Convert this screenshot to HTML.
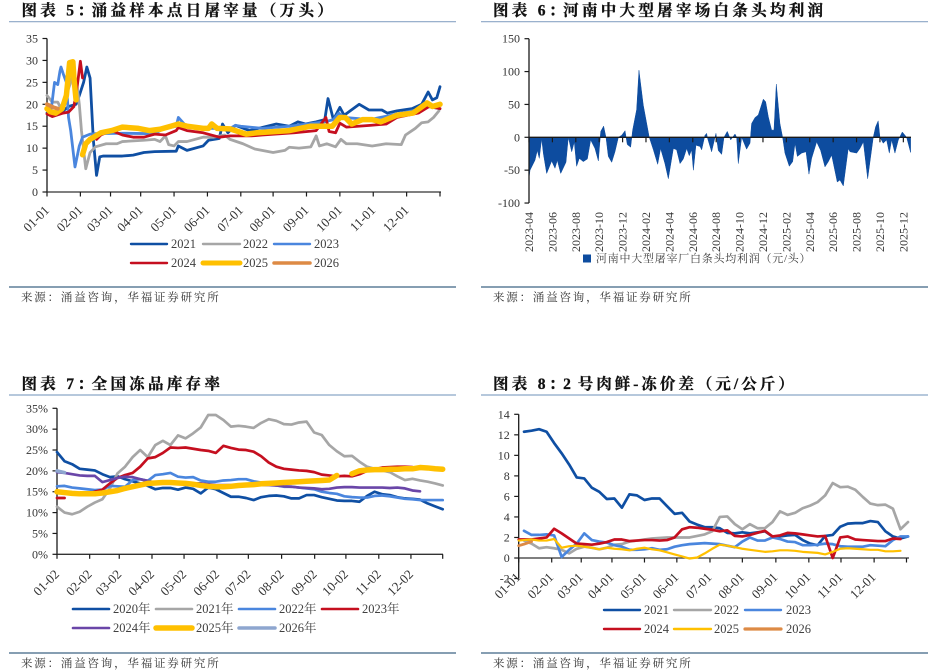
<!DOCTYPE html>
<html lang="zh">
<head>
<meta charset="utf-8">
<title>Charts 5-8</title>
<style>
html,body{margin:0;padding:0;background:#fff;width:942px;height:672px;overflow:hidden}
svg{display:block}
.title{font-family:"Liberation Serif","Noto Serif CJK SC",serif;font-weight:700;font-size:15.5px;letter-spacing:3.3px;fill:#111;stroke:#111;stroke-width:.3px}
.src{font-family:"Liberation Serif","Noto Serif CJK SC",serif;font-size:11.5px;letter-spacing:1.8px;fill:#333}
.tick{font-family:"Liberation Serif","Noto Serif CJK SC",serif;font-size:12px;fill:#333}
.rot{font-size:13px}
.leg{font-family:"Liberation Serif","Noto Serif CJK SC",serif;font-size:12.5px;fill:#404040}
</style>
</head>
<body>
<svg id="page" xmlns="http://www.w3.org/2000/svg" width="942" height="672" viewBox="0 0 942 672">
  <rect width="942" height="672" fill="#fff"/>
  <text class="title" x="21.5" y="15.5">图表 5：<tspan dx="-4.5">涌益样本点日屠宰量（万头）</tspan></text>
  <line x1="9" x2="456" y1="21.7" y2="21.7" stroke="#8ba6c6" stroke-width="1.2"/>
  <line x1="9" x2="456" y1="287" y2="287" stroke="#3f6485" stroke-width="1.2"/>
  <text class="src" x="21" y="301">来源：涌益咨询，华福证券研究所</text>

  <text class="title" x="493" y="15.5">图表 6：<tspan dx="-4.5">河南中大型屠宰场白条头均利润</tspan></text>
  <line x1="481" x2="928" y1="21.7" y2="21.7" stroke="#8ba6c6" stroke-width="1.2"/>
  <line x1="481" x2="928" y1="287" y2="287" stroke="#3f6485" stroke-width="1.2"/>
  <text class="src" x="493" y="301">来源：涌益咨询，华福证券研究所</text>

  <text class="title" x="21.5" y="389">图表 7：<tspan dx="-4.5">全国冻品库存率</tspan></text>
  <line x1="9" x2="456" y1="395" y2="395" stroke="#8ba6c6" stroke-width="1.2"/>
  <line x1="9" x2="456" y1="653" y2="653" stroke="#3f6485" stroke-width="1.2"/>
  <text class="src" x="21" y="667">来源：涌益咨询，华福证券研究所</text>

  <text class="title" x="493" y="389">图表 8：<tspan dx="-4.5" style="word-spacing:-3px;letter-spacing:3px">2 号肉鲜-冻价差（元/公斤）</tspan></text>
  <line x1="481" x2="928" y1="395" y2="395" stroke="#8ba6c6" stroke-width="1.2"/>
  <line x1="481" x2="928" y1="653" y2="653" stroke="#3f6485" stroke-width="1.2"/>
  <text class="src" x="493" y="667">来源：涌益咨询，华福证券研究所</text>

  <g id="c5"></g>
  <g id="c6"></g>
  <g id="c7"></g>
  <g id="c8"></g>
</svg>
<script>
/* ---------- Chart 5 data: day of year / head count (10k) ---------- */
const c5TickDays = [0,31,59,87,118,149,180,210,241,272,303,334,365];
const c5TickLabels = ['01-01','02-01','03-01','04-01','05-01','06-01','07-01','08-01','09-01','10-01','11-01','12-01',''];
const c5YTicks = [0,5,10,15,20,25,30,35];
const days2021 = [0,15,20,27,30,34,37,40,43,46,49,52,60,70,80,90,100,120,122,130,145,150,160,163,168,175,188,213,225,233,240,250,258,261,266,272,276,290,299,311,316,325,339,348,354,358,362,365];
const vals2021 = [18,18.5,19.5,20,22,25,28.5,26,12,3.8,8,8.2,8.2,8.2,8.4,9,9.2,9.3,10.5,9.5,10.5,11.8,12.2,15.5,13.5,15.2,14,15.5,15,16,15.5,16,16.5,21.3,16.5,19.3,17.5,20,18.7,18.7,18,18.5,19,20,22.8,21,21.5,24];
const days2022 = [0,5,10,13,17,22,25,28,30,32,36,40,45,55,65,70,90,100,105,110,113,118,122,130,145,155,165,170,182,193,210,221,225,234,245,250,253,260,268,273,278,288,302,315,329,333,342,348,354,359,364];
const vals2022 = [22,20.5,20.5,19,21.5,25,27.5,24,20,14,5.3,9,10.3,11,11,11.5,11.8,12,11.5,12.8,10.8,10.5,11.5,11.5,12.5,12.5,13,12,11,9.8,9,9.5,10.2,10,10.3,12.8,10.5,11,10.3,12,11,11,10.5,11,10.8,13,14.5,15.8,16,17,18.5];
const days2023 = [0,4,7,10,12,13,15,18,20,22,26,30,33,40,45,70,100,105,110,120,122,130,150,170,175,180,200,225,258,266,271,276,300,329,345,353,365];
const vals2023 = [19,19,25,24.5,27.5,28.5,27,25,17,14,5.7,10.5,12.5,13.2,13.3,13.4,13.3,14,14.5,15,17,14.8,14.5,14.5,15.2,15,14.5,15,16,16.5,18,17,16.5,18,18.8,19.5,19];
const days2024 = [0,5,15,20,25,28,31,33,34,46,50,60,70,80,90,100,110,120,122,130,145,160,170,190,200,230,250,259,262,268,272,278,300,315,325,345,355,365];
const vals2024 = [17.8,17.2,18,18.2,19.5,24,29.8,26,null,12,13,14,13,12.5,12.5,13.2,13,14,14.7,14,13.5,12.5,12.8,12.8,13,13.5,14,17,13.8,13.5,15.7,14.8,15.2,15.5,17,18,19.5,19];
const days2025 = [0,3,8,14,18,20,21,24,25,27,30,33,36,40,50,60,70,85,95,105,115,122,130,145,150,153,158,170,185,195,225,245,265,272,277,283,293,302,310,325,340,353,358,365];
const vals2025 = [19,18.3,18,19,22,27,29.5,29.7,26,21,null,8.5,11,12,13.5,14,14.8,14.5,14,14.3,15,15.5,15,14.5,14.5,15.5,14.5,14.4,13.2,13.5,14,15,15,17,17,15.5,16.5,16.5,16,17.5,18,20.3,19.5,20];
const days2026 = [0,6,10];
const vals2026 = [20,19.3,19];

/* ---------- Chart 6 data: months since 2023-04 / profit (yuan per head) ---------- */
const c6TickMonths = [0,2,4,6,8,10,12,14,16,18,20,22,24,26,28,30,32];
const c6TickLabels = ['2023-04','2023-06','2023-08','2023-10','2023-12','2024-02','2024-04','2024-06','2024-08','2024-10','2024-12','2025-02','2025-04','2025-06','2025-08','2025-10','2025-12'];
const c6YTicks = [-100,-50,0,50,100,150];
const profitMonths = [0,.09,.51,.71,.88,1.08,1.23,1.51,1.94,2.22,2.42,2.71,3.16,3.36,3.65,3.87,4.07,4.3,4.64,4.99,5.27,5.64,5.93,6.13,6.38,6.58,6.78,7.07,7.35,7.64,7.92,8.21,8.4,8.69,8.86,9.2,9.4,9.77,10.28,10.63,11,11.25,11.62,11.91,12.34,12.62,12.91,13.19,13.48,13.7,13.9,14.05,14.27,14.62,14.76,15.04,15.19,15.24,15.61,15.98,16.18,16.47,16.67,16.95,17.24,17.61,17.75,17.89,18.18,18.6,18.89,19.03,19.32,19.6,20.03,20.23,20.46,20.74,20.94,21.14,21.45,21.68,21.88,22.25,22.54,22.74,22.94,23.31,23.68,23.93,24.16,24.59,24.93,25.3,25.59,25.87,26.35,26.58,26.87,27.29,27.44,28.01,28.29,28.58,28.95,29.43,29.63,29.85,30,30.28,30.57,30.8,31,31.28,31.57,31.91,32.28,32.62];
const profitValues = [-62,-50,-35,-20,-32,-2,-25,-55,-36,-47,-35,-55,-38,0,-22,-7,-44,-32,-37,-33,-4,-17,-36,9,17,0,-29,-38,-22,0,3,10,-11,-15,11,42,102,49,0,-19,-41,-17,-40,-63,-17,-19,-40,-33,-17,-28,-19,-50,-12,-14,-19,3,6,0,-22,6,-20,-26,0,9,-4,5,0,-40,0,-18,-9,21,30,34,58,54,31,11,11,81,21,0,-24,-44,-37,-9,-29,-24,-22,-56,-32,-7,-20,-45,-37,-27,-68,-65,-74,-17,-22,-24,-17,-7,-63,0,16,25,0,-9,-4,-24,-4,-24,-4,8,0,-23];

/* ---------- Chart 7 data: week index / inventory rate % ---------- */
const c7TickWeeks = [0,4.32,8.23,12.56,16.8,21.15,25.3,29.7,34.07,38.2,42.55,46.8,51];
const c7TickLabels = ['01-02','02-02','03-02','04-02','05-02','06-02','07-02','08-02','09-02','10-02','11-02','12-02',''];
const c7YTicks = [0,5,10,15,20,25,30,35];
const rate2020 = [24.5,22.3,21.6,20.5,20.3,20.1,19.2,18.5,18.7,18,17.5,17,16.4,15.6,15.9,15.9,15.5,16,15.7,14.6,16,15.6,14.7,13.8,13.8,13.5,13,13.7,14,14.1,13.9,13.4,13.4,14.2,14.2,13.7,13.3,12.9,12.8,12.8,12.6,14,15,14.4,14.2,13.7,13.4,13.3,13.1,12.2,11.5,10.8];
const rate2021 = [11.4,10,9.6,10.2,11.4,12.4,13.2,15.8,19.4,21,23.3,25,23.3,26.2,27.2,26.2,28.5,27.8,29,30.4,33.4,33.4,32.2,30.6,30.8,30.6,30.3,31.5,32.4,32,31.2,31.1,31.6,31.8,29.2,28.6,26.2,24.7,23.5,23.6,22.2,21,20.5,20.1,19.7,18.7,17.8,18.1,17.7,17.4,17,16.5];
const rate2022 = [16.3,16.4,16,15.8,15.6,15.4,15.5,16.4,16.3,16.2,17.8,18,17.6,19,19.2,19.5,18.6,18.4,18.5,17.7,17.4,17.4,17.7,17.8,18,18,17.5,17.2,16.8,16.5,16.2,16.2,16,15.8,15.6,15,14.7,14.5,13.9,13.7,13.6,13.6,14,14.1,13.9,13.6,13.3,13.2,13,13,13,13];
const rate2023 = [13.5,13.5,null,14.2,14.5,15,15.5,17,18.3,19,19.5,21,23,23.3,24.3,25.6,25.5,25.6,25.3,25,24.8,24.3,26,25.5,25.1,25,24.6,23.5,22,21,20.5,20.3,20.1,20,19.7,19.1,18.9,18.7,18.8,18.7,19.2,20,20.4,20.8,20.9,21,21,20.9];
const rate2024 = [19.7,19.5,19.2,18.9,18.8,18.8,17.3,17.8,18.3,18.6,18.5,18,17.6,17.2,17,17,17,17,17,17,16.8,16.6,16.6,16.6,16.6,16.6,16.6,16.6,16.6,16.5,16.3,16.2,16,15.9,15.8,15.6,15.7,16,16.1,16.1,16,16,16,16,15.9,16,15.8,15.3,15.1];
const rate2025 = [15,14.8,14.6,14.5,14.5,14.5,14.7,15,15.3,15.8,16.2,16.6,17,17.1,17.2,17.2,17.1,17,16.8,16.5,16.3,16.2,16.2,16.3,16.5,16.6,16.7,16.9,17,17.1,17.2,17.3,17.4,17.5,17.6,17.7,17.8,18.9,null,19.3,20,20.2,20.3,20.3,20.4,20.4,20.5,20.5,20.8,20.7,20.5,20.4];
const rate2026 = [20,19.6];

/* ---------- Chart 8 data: week position / spread (yuan per kg) ---------- */
const c8Weeks = [-0.7,0,1,2,3,4,5,6,7,8,9,10,11,12,13,14,15,16,17,18,19,20,21,22,23,24,25,26,27,28,29,30,31,32,33,34,35,36,37,38,39,40,41,42,43,44,45,46,47,48,49,50,51];
const c8TickWeeks = [-0.7,3.68,7.6,11.68,16,20.3,24.7,29,33.45,37.83,42.1,46.5,50.8];
const c8TickLabels = ['01-01','02-01','03-01','04-01','05-01','06-01','07-01','08-01','09-01','10-01','11-01','12-01',''];
const c8YTicks = [-2,0,2,4,6,8,10,12,14];
const spread2021 = [null,12.3,12.4,12.55,12.3,11.2,10.2,9.1,7.85,7.75,6.85,6.45,5.75,5.8,4.9,6.2,6.1,5.65,5.8,5.8,5.05,4.3,4.4,3.55,3.25,3,3,2.9,2.45,2.4,2.5,2.4,2.5,2.6,2.1,2.1,2.2,2.25,1.75,1.4,1.25,2.15,2.25,3.05,3.35,3.4,3.4,3.6,3.5,2.6,2.1,1.9,2.1];
const spread2022 = [null,1.7,1.4,.95,1.05,.95,.8,.45,.9,1.1,1,.85,1,1.3,1.35,1.6,1.7,1.8,1.9,1.95,2,2,2,2,2.15,2.3,2.6,4,4.05,3.3,2.8,3.3,2.9,2.9,3.5,4.55,4.2,4.4,4.85,5.1,5.45,6.1,7.3,6.9,6.95,6.65,5.95,5.3,5.15,5.2,4.8,2.8,3.5];
const spread2023 = [null,2.65,2.25,2.25,2.3,2.2,.1,.8,1.4,2.4,1.75,1.6,1.5,1.25,1.1,.8,.8,.85,.95,.8,.85,1.1,1.25,1.35,1.4,1.45,1.4,1.35,1.2,1.05,1.6,2,1.7,1.7,2,1.85,1.6,1.55,1.25,1.25,1.3,1.4,1.35,1.15,1.1,1.1,1.1,1.25,1.2,1.15,1.75,2.1,2.1];
const spread2024 = [1.8,1.8,1.8,1.9,2,2.85,2.4,1.9,1.4,1.35,1.3,1.4,1.55,1.8,1.8,1.65,1.7,1.75,1.75,1.7,1.75,2,2.8,3,2.95,2.85,2.75,2.6,2.7,2.15,2.1,2.25,2.45,2.65,2.1,2.2,2.45,2.4,2.3,2.2,2.1,2.15,0,2,2.1,1.8,1.75,1.7,1.65,1.65,1.9,1.85];
const spread2025 = [1.7,1.75,1.8,1.7,1.7,1.85,1,1.15,1.2,1.1,1,.85,1,.9,.85,.75,.9,1,.85,.75,.55,.35,.15,-.05,.05,.45,.9,1.3,1.2,1.05,.9,.8,.7,.6,.65,.75,.75,.7,.6,.55,.5,.35,.6,.9,.95,.9,.85,.8,.8,.65,.65,.7];
const spread2026 = [1.2,1.35,1.6];

/* ---------- Helpers ---------- */
const NS = 'http://www.w3.org/2000/svg';
const COL = {dark:'#0f4fa3',gray:'#a6a6a6',light:'#4a86de',red:'#c50f1f',yellow:'#ffc000',orange:'#dd8a45',purple:'#6a46a8',steel:'#8ea6cf'};

function linear(d0,d1,r0,r1){ return function(v){ return r0+(v-d0)*(r1-r0)/(d1-d0); }; }

function mk(parent,tag,attrs,text){
  const el=document.createElementNS(NS,tag);
  for(const k in attrs){ el.setAttribute(k,attrs[k]); }
  if(text!==undefined){ el.textContent=text; }
  parent.appendChild(el);
  return el;
}

function seriesLine(g,xsData,ysData,xFn,yFn,color,width,name){
  let d='',pen=false;
  for(let i=0;i<ysData.length;i++){
    const v=ysData[i];
    if(v===null||v===undefined){ pen=false; continue; }
    d+=(pen?'L':'M')+xFn(xsData[i]).toFixed(2)+' '+yFn(v).toFixed(2);
    pen=true;
  }
  const el=mk(g,'path',{d:d,fill:'none',stroke:color,'stroke-width':width,'stroke-linejoin':'round','stroke-linecap':'round'});
  
  
}

function yAxis(g,ticks,yFn,axisX,fmt,bottomY,prefix){
  const ax=mk(g,'line',{x1:axisX,x2:axisX,y1:yFn(ticks[ticks.length-1]),y2:bottomY,stroke:'#1a1a1a','stroke-width':1.3});
  
  
  ticks.forEach(function(t){
    const m=mk(g,'line',{x1:axisX-4.5,x2:axisX,y1:yFn(t),y2:yFn(t),stroke:'#1a1a1a','stroke-width':1.2});
    
    
    const lb=mk(g,'text',{class:'tick',x:axisX-9,y:yFn(t)+4,'text-anchor':'end'},fmt(t));
    
    
  });
}

function xAxisRot(g,ticks,labels,xFn,axisY,x0,x1,dx,labelY,prefix){
  const ax=mk(g,'line',{x1:x0,x2:x1,y1:axisY,y2:axisY,stroke:'#333','stroke-width':1.3});
  
  
  ticks.forEach(function(t,i){
    const x=xFn(t);
    const m=mk(g,'line',{x1:x,x2:x,y1:axisY,y2:axisY+4.5,stroke:'#1a1a1a','stroke-width':1.2});
    
    
    if(labels[i]){
      const lx=x+dx;
      const lb=mk(g,'text',{class:'tick rot',x:lx,y:labelY,'text-anchor':'end',transform:'rotate(-45 '+lx+' '+labelY+')'},labels[i]);
      
      
    }
  });
}

function legendEntry(g,x0,x1,tx,y,color,width,label){
  const e=mk(g,'g',{});
  
  
  mk(e,'line',{x1:x0,x2:x1,y1:y,y2:y,stroke:color,'stroke-width':width,'stroke-linecap':'round'});
  mk(e,'text',{class:'leg',x:tx,y:y+4},label);
}

/* ---------- Chart 5 ---------- */
(function(){
  const g=document.getElementById('c5');
  const x=linear(0,365,47,440), y=linear(0,35,192,38.5);
  yAxis(g,c5YTicks,y,47,function(v){return String(v);},192,'c5');
  xAxisRot(g,c5TickDays,c5TickLabels,x,192,47,441,3,211,'c5');
  seriesLine(g,days2021,vals2021,x,y,COL.dark,2.8,'series-2021');
  seriesLine(g,days2022,vals2022,x,y,COL.gray,2.8,'series-2022');
  seriesLine(g,days2023,vals2023,x,y,COL.light,2.8,'series-2023');
  seriesLine(g,days2024,vals2024,x,y,COL.red,2.8,'series-2024');
  seriesLine(g,days2025,vals2025,x,y,COL.yellow,5.5,'series-2025');
  seriesLine(g,days2026,vals2026,x,y,COL.orange,4,'series-2026');
  legendEntry(g,131,167,171,244,COL.dark,2.4,'2021');
  legendEntry(g,203,240,243,244,COL.gray,2.4,'2022');
  legendEntry(g,274,310,314,244,COL.light,2.4,'2023');
  legendEntry(g,131,167,171,263,COL.red,2.4,'2024');
  legendEntry(g,203,240,243,263,COL.yellow,5,'2025');
  legendEntry(g,274,310,314,263,COL.orange,3.5,'2026');
})();

/* ---------- Chart 6 ---------- */
(function(){
  const g=document.getElementById('c6');
  const x=linear(0,32.62,529,910.6), y=linear(0,150,137.3,38.7);
  let d='M'+x(profitMonths[0]).toFixed(2)+' '+y(0).toFixed(2);
  profitValues.forEach(function(v,i){ d+='L'+x(profitMonths[i]).toFixed(2)+' '+y(v).toFixed(2); });
  d+='L'+x(profitMonths[profitMonths.length-1]).toFixed(2)+' '+y(0).toFixed(2)+'Z';
  const area=mk(g,'path',{d:d,fill:'#0d4c9f',stroke:'#0d4c9f','stroke-width':.5});
  
  
  yAxis(g,c6YTicks,y,529,function(v){return String(v);},y(-100),'c6');
  const ax=mk(g,'line',{x1:529,x2:911,y1:y(0),y2:y(0),stroke:'#1a1a1a','stroke-width':1.3});
  
  
  c6TickMonths.forEach(function(t,i){
    const px=x(t);
    const m=mk(g,'line',{x1:px,x2:px,y1:y(0),y2:y(0)+5,stroke:'#1a1a1a','stroke-width':1.2});
    
    
    const lx=px+4;
    const lb=mk(g,'text',{class:'tick',x:lx,y:212,'text-anchor':'end',transform:'rotate(-90 '+lx+' 212)'},c6TickLabels[i]);
    
    
  });
  const e=mk(g,'g',{});
  
  
  mk(e,'rect',{x:583,y:254.5,width:8,height:8,fill:'#0d4c9f'});
  mk(e,'text',{class:'leg',x:596,y:262,style:'font-size:11px;letter-spacing:.75px'},'河南中大型屠宰厂白条头均利润（元/头）');
})();

/* ---------- Chart 7 ---------- */
(function(){
  const g=document.getElementById('c7');
  const x=linear(0,51,57,442.7), y=linear(0,35,554.3,408.3);
  const idx=function(a){ return a.map(function(_,i){return i;}); };
  yAxis(g,c7YTicks,y,57,function(v){return v+'%';},554.3,'c7');
  xAxisRot(g,c7TickWeeks,c7TickLabels,x,554.3,57,443,3,575,'c7');
  seriesLine(g,idx(rate2020),rate2020,x,y,COL.dark,2.7,'series-2020');
  seriesLine(g,idx(rate2021),rate2021,x,y,COL.gray,2.7,'series-2021');
  seriesLine(g,idx(rate2022),rate2022,x,y,COL.light,2.7,'series-2022');
  seriesLine(g,idx(rate2023),rate2023,x,y,COL.red,2.7,'series-2023');
  seriesLine(g,idx(rate2024),rate2024,x,y,COL.purple,2.7,'series-2024');
  seriesLine(g,idx(rate2025),rate2025,x,y,COL.yellow,5.5,'series-2025');
  seriesLine(g,idx(rate2026),rate2026,x,y,COL.steel,3.5,'series-2026');
  legendEntry(g,73,109,113,609,COL.dark,2.6,'2020年');
  legendEntry(g,156,192,196,609,COL.gray,2.6,'2021年');
  legendEntry(g,239,275,279,609,COL.light,2.6,'2022年');
  legendEntry(g,322,358,362,609,COL.red,2.6,'2023年');
  legendEntry(g,73,109,113,628,COL.purple,2.6,'2024年');
  legendEntry(g,156,192,196,628,COL.yellow,5.5,'2025年');
  legendEntry(g,239,275,279,628,COL.steel,3.5,'2026年');
})();

/* ---------- Chart 8 ---------- */
(function(){
  const g=document.getElementById('c8');
  const x=linear(0,51,524,908), y=linear(0,14,558,414.3);
  yAxis(g,c8YTicks,y,518.7,function(v){return String(v);},y(-2),'c8');
  xAxisRot(g,c8TickWeeks,c8TickLabels,x,558,518.7,909,2.5,578,'c8');
  seriesLine(g,c8Weeks,spread2021,x,y,COL.dark,2.7,'series-2021');
  seriesLine(g,c8Weeks,spread2022,x,y,COL.gray,2.7,'series-2022');
  seriesLine(g,c8Weeks,spread2023,x,y,COL.light,2.7,'series-2023');
  seriesLine(g,c8Weeks,spread2024,x,y,COL.red,2.7,'series-2024');
  seriesLine(g,c8Weeks,spread2025,x,y,COL.yellow,2.2,'series-2025');
  seriesLine(g,c8Weeks,spread2026,x,y,COL.orange,2.8,'series-2026');
  legendEntry(g,604,640,644,610,COL.dark,2.4,'2021');
  legendEntry(g,674,711,714,610,COL.gray,2.4,'2022');
  legendEntry(g,745,781,786,610,COL.light,2.4,'2023');
  legendEntry(g,604,640,644,629,COL.red,2.4,'2024');
  legendEntry(g,674,711,714,629,COL.yellow,2.4,'2025');
  legendEntry(g,745,781,786,629,COL.orange,3.2,'2026');
})();
</script>
</body>
</html>
